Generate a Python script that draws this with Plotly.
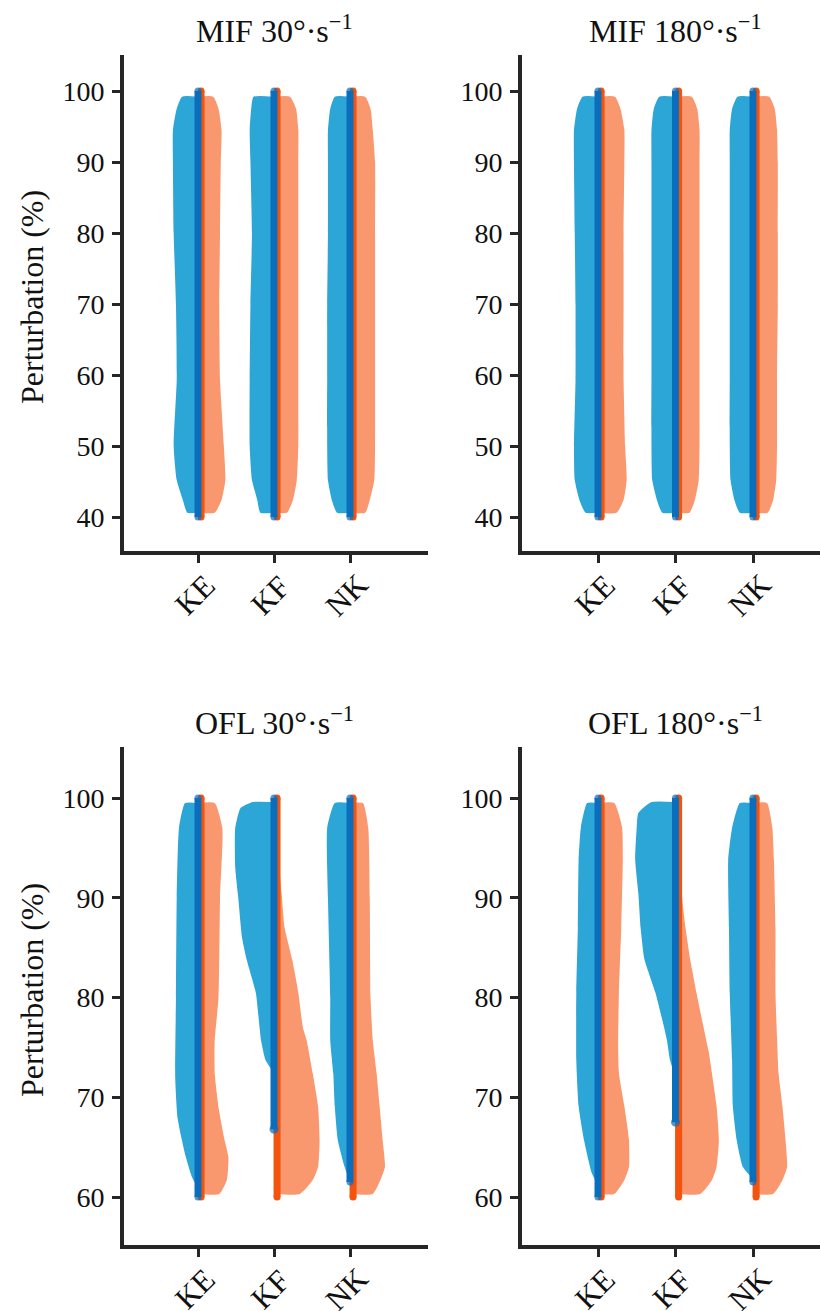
import plotly.graph_objects as go

# ---------------- data ----------------
CATEGORIES = ["KE", "KF", "NK"]
PANEL_TITLES = ["MIF 30°·s<sup>−1</sup>", "MIF 180°·s<sup>−1</sup>",
                "OFL 30°·s<sup>−1</sup>", "OFL 180°·s<sup>−1</sup>"]
TOP_YTICKS = [40, 50, 60, 70, 80, 90, 100]
BOTTOM_YTICKS = [60, 70, 80, 90, 100]

# violin outlines (y levels, half widths in category units)
TOP_Y = [40.6, 42.4, 45.2, 50, 59.3, 70, 80, 90, 94.5, 97.5, 99.2]

MIF30_KE_blue = [0.14, 0.20, 0.28, 0.32, 0.28, 0.29, 0.32, 0.33, 0.33, 0.28, 0.21]
MIF30_KE_orange = [0.22, 0.31, 0.36, 0.34, 0.29, 0.28, 0.29, 0.30, 0.31, 0.27, 0.20]
MIF30_KF_blue = [0.18, 0.22, 0.29, 0.32, 0.32, 0.31, 0.29, 0.31, 0.32, 0.30, 0.27]
MIF30_KF_orange = [0.17, 0.25, 0.30, 0.32, 0.32, 0.32, 0.32, 0.32, 0.32, 0.29, 0.21]
MIF30_NK_blue = [0.17, 0.24, 0.29, 0.30, 0.30, 0.30, 0.29, 0.29, 0.29, 0.26, 0.20]
MIF30_NK_orange = [0.20, 0.26, 0.32, 0.33, 0.33, 0.33, 0.33, 0.33, 0.30, 0.27, 0.20]

MIF180_KE_blue = [0.16, 0.24, 0.30, 0.31, 0.29, 0.29, 0.30, 0.31, 0.31, 0.27, 0.20]
MIF180_KE_orange = [0.24, 0.33, 0.37, 0.35, 0.33, 0.33, 0.33, 0.34, 0.34, 0.29, 0.22]
MIF180_KF_blue = [0.17, 0.24, 0.30, 0.31, 0.31, 0.31, 0.31, 0.31, 0.31, 0.28, 0.21]
MIF180_KF_orange = [0.18, 0.25, 0.30, 0.31, 0.31, 0.31, 0.31, 0.31, 0.31, 0.28, 0.21]
MIF180_NK_blue = [0.17, 0.24, 0.29, 0.30, 0.30, 0.30, 0.30, 0.30, 0.30, 0.27, 0.20]
MIF180_NK_orange = [0.19, 0.26, 0.30, 0.31, 0.31, 0.32, 0.32, 0.32, 0.31, 0.28, 0.21]

OFL30_KE_blue_y = [61.2, 62, 64, 66, 68, 72, 80, 90, 97, 99.5]
OFL30_KE_blue = [0.02, 0.08, 0.16, 0.22, 0.27, 0.30, 0.29, 0.28, 0.25, 0.17]
OFL30_KE_orange_y = [60.3, 61.7, 64, 65.7, 69, 72.4, 75.7, 80, 90, 97, 99.5]
OFL30_KE_orange = [0.28, 0.38, 0.40, 0.35, 0.27, 0.22, 0.22, 0.27, 0.29, 0.32, 0.22]
OFL30_KF_blue_y = [72.4, 73.7, 75.7, 77, 80.5, 83.8, 86, 90, 93, 97, 99, 99.6]
OFL30_KF_blue = [0.0, 0.11, 0.17, 0.19, 0.24, 0.36, 0.42, 0.47, 0.51, 0.51, 0.44, 0.28]
OFL30_KF_orange_y = [60.3, 61.7, 63, 65.7, 69.1, 72.4, 75.7, 77, 80.5, 83.8, 87, 90.5, 95, 99.6]
OFL30_KF_orange = [0.34, 0.51, 0.58, 0.60, 0.58, 0.51, 0.43, 0.38, 0.32, 0.24, 0.14, 0.10, 0.05, 0.03]
OFL30_NK_blue_y = [62, 63, 65.7, 69.1, 72.4, 75.7, 80, 90, 97, 99.5]
OFL30_NK_blue = [0.02, 0.07, 0.16, 0.20, 0.22, 0.26, 0.26, 0.29, 0.30, 0.20]
OFL30_NK_orange_y = [60.3, 61.7, 63, 65.7, 69.1, 72.4, 75.7, 80, 90, 97, 99.5]
OFL30_NK_orange = [0.30, 0.40, 0.46, 0.43, 0.39, 0.35, 0.30, 0.27, 0.26, 0.24, 0.17]

OFL180_KE_blue_y = [61.5, 62.4, 65.7, 69.1, 73.7, 80.5, 87, 93.8, 97.1, 99.5]
OFL180_KE_blue = [0.02, 0.08, 0.18, 0.25, 0.28, 0.28, 0.26, 0.25, 0.22, 0.14]
OFL180_KE_orange_y = [60.3, 61.7, 63, 65.7, 69.1, 72.4, 75, 80.5, 87, 93.8, 97.1, 99.5]
OFL180_KE_orange = [0.21, 0.34, 0.40, 0.40, 0.34, 0.27, 0.26, 0.27, 0.30, 0.32, 0.31, 0.21]
OFL180_KF_blue_y = [72, 73.7, 75.7, 77.1, 80.5, 83.8, 87, 90.5, 93.8, 97.1, 98.5, 99.6]
OFL180_KF_blue = [0.0, 0.07, 0.11, 0.15, 0.26, 0.40, 0.45, 0.48, 0.52, 0.50, 0.48, 0.31]
OFL180_KF_orange_y = [60.3, 61.7, 63, 65.7, 69.1, 72.4, 74.5, 77.1, 80.5, 83.8, 87, 90.5, 95, 99.6]
OFL180_KF_orange = [0.32, 0.47, 0.53, 0.56, 0.53, 0.47, 0.43, 0.36, 0.27, 0.19, 0.13, 0.08, 0.05, 0.03]
OFL180_NK_blue_y = [62, 63, 65.7, 69.1, 73.7, 80.5, 87, 93.8, 97, 99.5]
OFL180_NK_blue = [0.02, 0.13, 0.21, 0.26, 0.27, 0.30, 0.31, 0.32, 0.27, 0.17]
OFL180_NK_orange_y = [60.3, 61.7, 63, 65.7, 69.1, 72.4, 76, 80.5, 87, 93.8, 97, 99.5]
OFL180_NK_orange = [0.26, 0.38, 0.44, 0.42, 0.38, 0.33, 0.31, 0.29, 0.29, 0.27, 0.25, 0.18]

# data point ranges (strip of points along the centre)
DATA_MAX = [100, 100, 100]
MIF30_blue_min = [40, 40, 40]
MIF30_orange_min = [40, 40, 40]
MIF180_blue_min = [40, 40, 40]
MIF180_orange_min = [40, 40, 40]
OFL30_blue_min = [60, 66.8, 61.5]
OFL30_orange_min = [60, 60, 60]
OFL180_blue_min = [60, 67.5, 61.5]
OFL180_orange_min = [60, 60, 60]

# ---------------- styling ----------------
FONT = "Liberation Serif"
BLUE_FILL = "#2CA6D6"
ORANGE_FILL = "#F9976F"
BLUE_DOT = "#0A6EBD"
ORANGE_DOT = "#F4530E"
AXIS_COLOR = "#262626"
TEXT_COLOR = "#111111"
W, H = 820, 1311

panels = [
    dict(yv=[TOP_Y] * 3, blue=[MIF30_KE_blue, MIF30_KF_blue, MIF30_NK_blue],
         yo=[TOP_Y] * 3, orange=[MIF30_KE_orange, MIF30_KF_orange, MIF30_NK_orange],
         bmin=MIF30_blue_min, omin=MIF30_orange_min),
    dict(yv=[TOP_Y] * 3, blue=[MIF180_KE_blue, MIF180_KF_blue, MIF180_NK_blue],
         yo=[TOP_Y] * 3, orange=[MIF180_KE_orange, MIF180_KF_orange, MIF180_NK_orange],
         bmin=MIF180_blue_min, omin=MIF180_orange_min),
    dict(yv=[OFL30_KE_blue_y, OFL30_KF_blue_y, OFL30_NK_blue_y],
         blue=[OFL30_KE_blue, OFL30_KF_blue, OFL30_NK_blue],
         yo=[OFL30_KE_orange_y, OFL30_KF_orange_y, OFL30_NK_orange_y],
         orange=[OFL30_KE_orange, OFL30_KF_orange, OFL30_NK_orange],
         bmin=OFL30_blue_min, omin=OFL30_orange_min),
    dict(yv=[OFL180_KE_blue_y, OFL180_KF_blue_y, OFL180_NK_blue_y],
         blue=[OFL180_KE_blue, OFL180_KF_blue, OFL180_NK_blue],
         yo=[OFL180_KE_orange_y, OFL180_KF_orange_y, OFL180_NK_orange_y],
         orange=[OFL180_KE_orange, OFL180_KF_orange, OFL180_NK_orange],
         bmin=OFL180_blue_min, omin=OFL180_orange_min),
]

# panel pixel boxes of the plotting area: (left, right, top, bottom)
boxes = [(124, 428, 55, 551), (522, 820, 55, 551),
         (124, 428, 747, 1245), (522, 820, 747, 1245)]
xranges = [[-(198 - 124) / 76.0, (428 - 198) / 76.0], [-(598 - 522) / 77.5, (820 - 598) / 77.5],
           [-(198 - 124) / 76.0, (428 - 198) / 76.0], [-(598 - 522) / 77.5, (820 - 598) / 77.5]]
yranges = [[100 - (551 - 91) / 7.1, 100 + (91 - 55) / 7.1], [100 - (551 - 91) / 7.1, 100 + (91 - 55) / 7.1],
           [100 - (1245 - 798) / 9.975, 100 + (798 - 747) / 9.975],
           [100 - (1245 - 798) / 9.975, 100 + (798 - 747) / 9.975]]
yticks = [TOP_YTICKS, TOP_YTICKS, BOTTOM_YTICKS, BOTTOM_YTICKS]

fig = go.Figure()
layout = dict(width=W, height=H, margin=dict(l=0, r=0, t=0, b=0, autoexpand=False),
              plot_bgcolor="white", paper_bgcolor="white", showlegend=False, template="none")
annotations = []

for i, p in enumerate(panels):
    n = i + 1
    xa = "x" if n == 1 else f"x{n}"
    ya = "y" if n == 1 else f"y{n}"
    for c in range(len(CATEGORIES)):
        yb = p["yv"][c]
        wb = p["blue"][c]
        xs = [c] + [c - w for w in wb] + [c]
        ys = [yb[0]] + list(yb) + [yb[-1]]
        fig.add_trace(go.Scatter(x=xs, y=ys, mode="lines", fill="toself",
                                 fillcolor=BLUE_FILL, line=dict(width=0, shape="spline", smoothing=0.5),
                                 xaxis=xa, yaxis=ya, hoverinfo="skip"))
        yo = p["yo"][c]
        wo = p["orange"][c]
        xs = [c] + [c + w for w in wo] + [c]
        ys = [yo[0]] + list(yo) + [yo[-1]]
        fig.add_trace(go.Scatter(x=xs, y=ys, mode="lines", fill="toself",
                                 fillcolor=ORANGE_FILL, line=dict(width=0, shape="spline", smoothing=0.5),
                                 xaxis=xa, yaxis=ya, hoverinfo="skip"))
    for c in range(len(CATEGORIES)):
        fig.add_trace(go.Scatter(x=[c + 0.04, c + 0.04], y=[p["omin"][c], DATA_MAX[c]],
                                 mode="lines+markers", line=dict(color=ORANGE_DOT, width=7),
                                 marker=dict(color=ORANGE_DOT, size=7, line=dict(width=0)),
                                 xaxis=xa, yaxis=ya, hoverinfo="skip"))
        fig.add_trace(go.Scatter(x=[c, c], y=[p["bmin"][c], DATA_MAX[c]],
                                 mode="lines+markers", line=dict(color=BLUE_DOT, width=7),
                                 marker=dict(color=BLUE_DOT, size=[9 if p["bmin"][c] > 62 else 7, 7],
                                             line=dict(width=0)),
                                 xaxis=xa, yaxis=ya, hoverinfo="skip"))

    l, r, t, b = boxes[i]
    axis_common = dict(showgrid=False, zeroline=False, showline=True, linecolor=AXIS_COLOR,
                       linewidth=4, ticks="outside", ticklen=8, tickwidth=3, tickcolor=AXIS_COLOR,
                       automargin=False)
    layout["xaxis" if n == 1 else f"xaxis{n}"] = dict(
        axis_common, domain=[l / W, r / W], range=xranges[i], tickvals=[0, 1, 2],
        showticklabels=False, anchor=ya, fixedrange=True)
    layout["yaxis" if n == 1 else f"yaxis{n}"] = dict(
        axis_common, domain=[1 - b / H, 1 - t / H], range=yranges[i], tickvals=yticks[i],
        tickfont=dict(family=FONT, size=28, color=TEXT_COLOR), ticklabelstandoff=2,
        anchor=xa, fixedrange=True)

    annotations.append(dict(text=PANEL_TITLES[i], x=1, xref=xa, y=1 - (t - 26) / H, yref="paper",
                            showarrow=False, xanchor="center", yanchor="middle",
                            font=dict(family=FONT, size=32, color=TEXT_COLOR)))
    for c, name in enumerate(CATEGORIES):
        annotations.append(dict(text=name, x=c, xref=xa, y=1 - (b + 44) / H, yref="paper",
                                showarrow=False, textangle=-45, xanchor="center", yanchor="middle",
                                xshift=-4, font=dict(family=FONT, size=31, color=TEXT_COLOR)))
    if i % 2 == 0:
        annotations.append(dict(text="Perturbation (%)", x=32 / W, xref="paper",
                                y=1 - ((t + b) / 2 - 6) / H, yref="paper", showarrow=False,
                                textangle=-90, xanchor="center", yanchor="middle",
                                font=dict(family=FONT, size=32, color=TEXT_COLOR)))

layout["annotations"] = annotations
fig.update_layout(**layout)
fig.write_html("out.html", config={"displayModeBar": False},
               post_script="document.body.style.margin='0px';"
                           "document.body.style.overflow='hidden';")
